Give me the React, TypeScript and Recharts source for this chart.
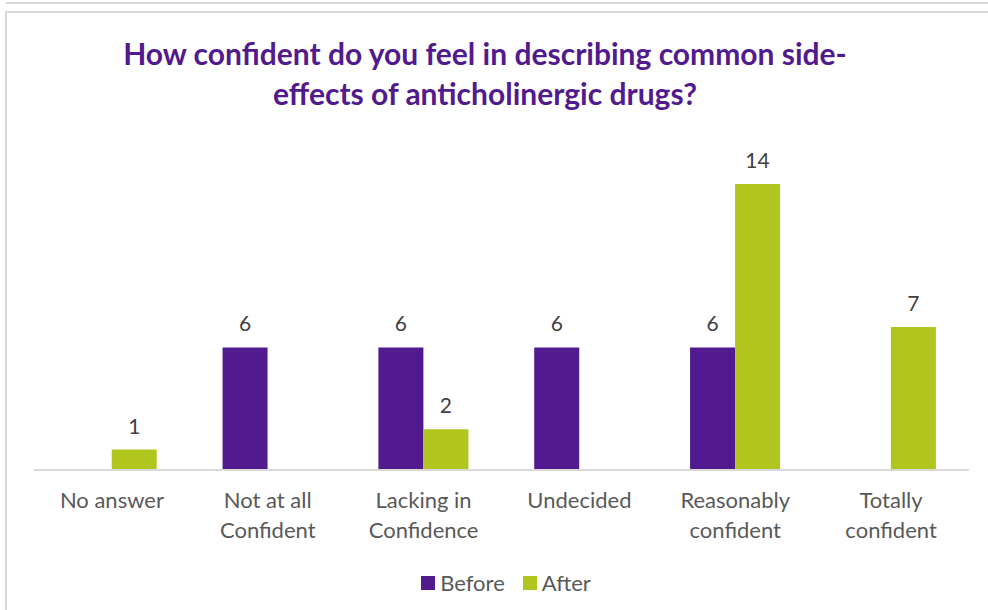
import { Bar, BarChart, LabelList, Legend, XAxis, YAxis } from 'recharts';

const categories = [
  'No answer',
  'Not at all\nConfident',
  'Lacking in\nConfidence',
  'Undecided',
  'Reasonably\nconfident',
  'Totally\nconfident',
];
const before = [null, 6, 6, 6, 6, null];
const after = [1, null, 2, null, 14, 7];

const PURPLE = '#521A8F';
const GREEN = '#B1C51F';
const FONT = 'Lato, "Open Sans", sans-serif';

const data = categories.map((name, i) => ({ name, before: before[i], after: after[i] }));

const legendItems = [
  { label: 'Before', color: PURPLE },
  { label: 'After', color: GREEN },
];

type TickProps = { x?: number; y?: number; payload?: { value: string } };

function CategoryTick({ x = 0, y = 0, payload }: TickProps) {
  const lines = (payload?.value ?? '').split('\n');
  return (
    <text x={x} y={y} textAnchor="middle" fill="#595959" fontSize={22} fontFamily={FONT}>
      {lines.map((line, i) => (
        <tspan key={i} x={x} dy={30}>
          {line}
        </tspan>
      ))}
    </text>
  );
}

function ChartLegend() {
  return (
    <div style={{ display: 'flex', justifyContent: 'center', gap: 18, marginLeft: 24 }}>
      {legendItems.map((item) => (
        <div key={item.label} style={{ display: 'flex', alignItems: 'center', gap: 5 }}>
          <span style={{ width: 14, height: 14, background: item.color, display: 'inline-block' }} />
          <span style={{ color: '#595959', fontSize: 22, fontFamily: FONT }}>{item.label}</span>
        </div>
      ))}
    </div>
  );
}

const showValue = (v: unknown) => (v == null ? '' : String(v));

export default function App() {
  return (
    <div
      style={{
        position: 'absolute',
        left: 0,
        top: 0,
        width: 988,
        height: 610,
        background: '#fff',
        overflow: 'hidden',
        fontFamily: FONT,
      }}
    >
      <div style={{ position: 'absolute', left: 6, top: 2, width: 990, height: 0, borderTop: '2px solid #D9D9D9' }} />
      <div
        style={{
          position: 'absolute',
          left: 5,
          top: 11,
          width: 1000,
          height: 620,
          border: '2px solid #D9D9D9',
          boxSizing: 'border-box',
        }}
      />
      <div
        style={{
          position: 'absolute',
          left: 0,
          top: 33,
          width: 970,
          textAlign: 'center',
          color: PURPLE,
          fontWeight: 700,
          fontSize: 30,
          lineHeight: '40px',
          whiteSpace: 'nowrap',
        }}
      >
        How confident do you feel in describing common side-
        <br />
        effects of anticholinergic drugs?
      </div>
      <div style={{ position: 'absolute', left: 0, top: 0 }}>
        <BarChart
          width={988}
          height={610}
          data={data}
          margin={{ top: 143, right: 19, bottom: 33, left: 34 }}
          barCategoryGap="21%"
          barGap={0}
        >
          <XAxis
            dataKey="name"
            axisLine={{ stroke: '#D9D9D9', strokeWidth: 2 }}
            tickLine={false}
            tick={<CategoryTick />}
            height={80}
            interval={0}
          />
          <YAxis hide domain={[0, 16]} />
          <Legend
            content={<ChartLegend />}
            wrapperStyle={{ position: 'absolute', top: 569, left: 0, width: 988 }}
          />
          <Bar dataKey="before" name="Before" fill={PURPLE} isAnimationActive={false}>
            <LabelList
              dataKey="before"
              position="top"
              offset={16}
              formatter={showValue}
              fill="#404040"
              fontSize={21}
              fontFamily={FONT}
            />
          </Bar>
          <Bar dataKey="after" name="After" fill={GREEN} isAnimationActive={false}>
            <LabelList
              dataKey="after"
              position="top"
              offset={16}
              formatter={showValue}
              fill="#404040"
              fontSize={21}
              fontFamily={FONT}
            />
          </Bar>
        </BarChart>
      </div>
    </div>
  );
}
